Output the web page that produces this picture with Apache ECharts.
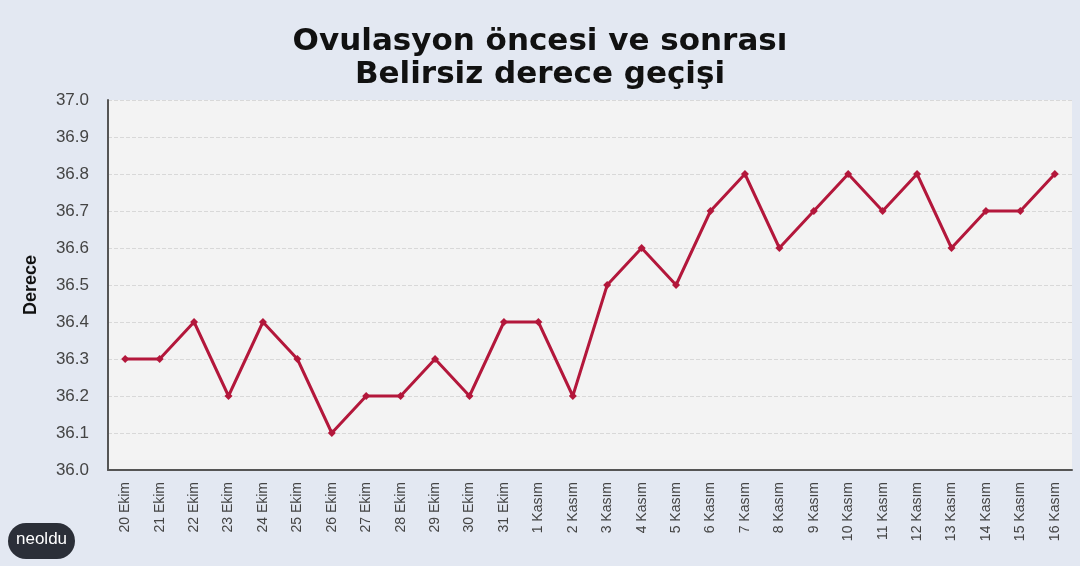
<!DOCTYPE html>
<html><head><meta charset="utf-8">
<script src="https://cdn.jsdelivr.net/npm/echarts@6/dist/echarts.min.js"></script>
<style>html,body{margin:0;padding:0;background:#e3e8f2;}#c{width:1080px;height:566px;}</style>
</head><body><div id="c"></div>
<script>
const categories = ['20 Ekim','21 Ekim','22 Ekim','23 Ekim','24 Ekim','25 Ekim','26 Ekim','27 Ekim','28 Ekim','29 Ekim','30 Ekim','31 Ekim','1 Kasım','2 Kasım','3 Kasım','4 Kasım','5 Kasım','6 Kasım','7 Kasım','8 Kasım','9 Kasım','10 Kasım','11 Kasım','12 Kasım','13 Kasım','14 Kasım','15 Kasım','16 Kasım'];
const temperatures = [36.3,36.3,36.4,36.2,36.4,36.3,36.1,36.2,36.2,36.3,36.2,36.4,36.4,36.2,36.5,36.6,36.5,36.7,36.8,36.6,36.7,36.8,36.7,36.8,36.6,36.7,36.7,36.8];
const titleLines = ['Ovulasyon öncesi ve sonrası','Belirsiz derece geçişi'];
const yName = 'Derece';

const chart = echarts.init(document.getElementById('c'));
chart.setOption({
  backgroundColor: '#e3e8f2',
  animation: false,
  title: {
    text: titleLines.join('\n'),
    left: 'center', top: 20,
    textStyle: {fontFamily: 'DejaVu Sans', fontWeight: 'bold', fontSize: 31, color: '#111', lineHeight: 33}
  },
  grid: {left: 108, right: 8, top: 100, bottom: 96, show: true, backgroundColor: '#f3f3f3', borderWidth: 0},
  xAxis: {
    type: 'category', data: categories, boundaryGap: true,
    axisLine: {lineStyle: {color: '#555', width: 2}},
    axisTick: {show: false},
    axisLabel: {rotate: 90, interval: 0, fontFamily: 'Liberation Sans', fontSize: 14, color: '#444', margin: 12}
  },
  yAxis: {
    type: 'value', min: 36.0, max: 37.0, interval: 0.1,
    name: yName, nameLocation: 'middle', nameGap: 68, nameRotate: 90,
    nameTextStyle: {fontFamily: 'Liberation Sans', fontWeight: 'bold', fontSize: 18, color: '#111'},
    axisLine: {show: true, lineStyle: {color: '#555', width: 2}},
    axisTick: {show: false},
    axisLabel: {formatter: v => v.toFixed(1), fontFamily: 'Liberation Sans', fontSize: 17, color: '#444', margin: 19},
    splitLine: {lineStyle: {color: '#d8d8d8', type: 'dashed', width: 1}}
  },
  series: [{
    type: 'line', data: temperatures,
    symbol: 'diamond', symbolSize: 8,
    lineStyle: {color: '#b3173b', width: 3},
    itemStyle: {color: '#b3173b'}
  }],
  graphic: [
    {type: 'rect', left: 8, top: 523, shape: {width: 67, height: 36, r: 18}, style: {fill: '#2b2f38'}},
    {type: 'text', left: 16, top: 531, style: {text: 'neoldu', fontFamily: 'Liberation Sans', fontSize: 17, fill: '#ffffff'}}
  ]
});
</script></body></html>
